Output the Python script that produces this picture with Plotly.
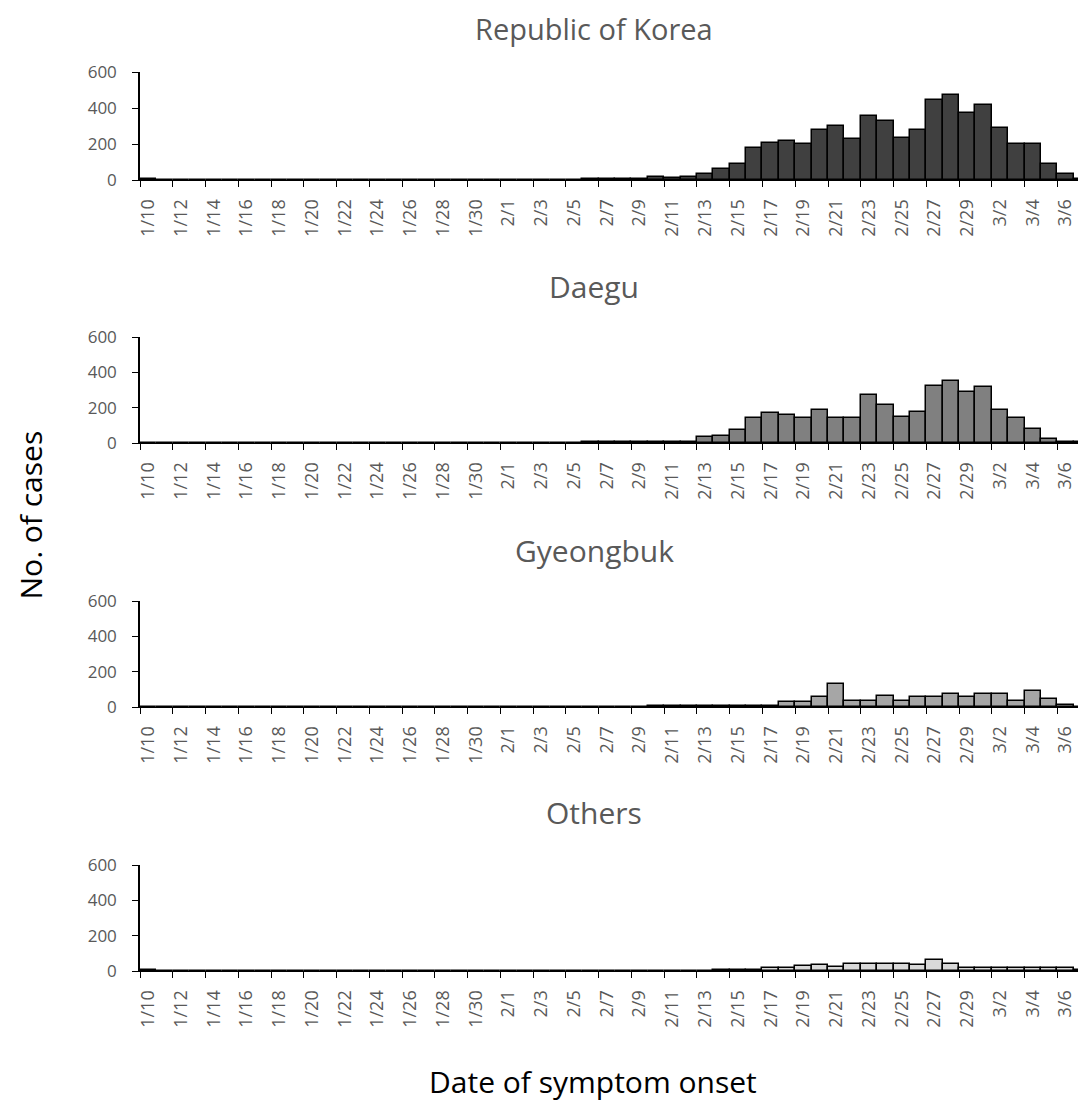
import plotly.graph_objects as go

dates = ([f"1/{d}" for d in range(10, 32)] +
         [f"2/{d}" for d in range(1, 30)] +
         [f"3/{d}" for d in range(1, 8)])

korea = [3, 0, 0, 0, 0, 0, 0, 0, 0, 2, 2, 2, 2, 0, 0, 2, 2, 0, 0, 2, 2, 2,
         2, 0, 0, 2, 2, 3, 3, 3, 5, 19, 9, 19, 33, 63, 89, 180, 208, 217, 199,
         280, 299, 227, 353, 327, 234, 280, 446, 475, 373,
         418, 290, 199, 199, 89, 33, 5]

daegu = [0] * 22 + [0, 0, 0, 0, 0, 3, 3, 3, 3, 3, 3, 3, 32, 41, 71, 141, 171,
         160, 141, 188, 141, 141, 271, 215, 150, 178, 325, 353, 288,
         316, 188, 141, 78, 24, 4, 4]

gyeongbuk = [0] * 22 + [0, 0, 0, 0, 0, 0, 0, 0, 0, 3, 3, 3, 3, 3, 3, 3, 3,
             28, 28, 56, 130, 35, 35, 65, 35, 56, 56, 74, 56,
             74, 74, 35, 93, 46, 9, 0]

others = [3, 0, 0, 0, 0, 0, 0, 0, 0, 2, 2, 2, 2, 0, 0, 2, 2, 0, 0, 2, 2, 2,
          2, 0, 0, 2, 2, 2, 2, 2, 2, 2, 2, 2, 0, 3, 3, 3, 15, 15, 26, 35, 22,
          41, 41, 41, 41, 32, 61, 41, 15,
          15, 15, 15, 15, 15, 15, 5]

titles = ["Republic of Korea", "Daegu", "Gyeongbuk", "Others"]
series = [korea, daegu, gyeongbuk, others]
colors = ["#404040", "#808080", "#a6a6a6", "#d9d9d9"]
yticks = [0, 200, 400, 600]

# page body has an 8px margin; lay out in screen pixels minus that offset
OFF = 8
W, H = 1086 - OFF, 1102 - OFF
FONT = "Open Sans"
TXT = "#595959"
tops = [72 - OFF, 337 - OFF, 601 - OFF, 865 - OFF]
heights = [108, 106, 106, 106]
title_y = [23 - OFF, 287 - OFF, 550 - OFF, 812 - OFF]
x0px = 140 - OFF

fig = go.Figure()
xidx = list(range(len(dates)))
tickpos = xidx[::2]
ticklab = dates[::2]

for i, (name, vals, col) in enumerate(zip(titles, series, colors)):
    n = "" if i == 0 else str(i + 1)
    fig.add_trace(go.Bar(
        x=xidx, y=vals, name=name, xaxis="x" + n, yaxis="y" + n,
        marker=dict(color=col, line=dict(color="#000000", width=1.5)),
        width=1.0, showlegend=False, hoverinfo="skip",
    ))
    top, h = tops[i], heights[i]
    fig.layout["xaxis" + n] = dict(
        domain=[x0px / W, 1.0], anchor="y" + n, automargin=False,
        range=[-0.5, 57.25], showline=True, linecolor="#000000", linewidth=1.2,
        tickmode="array", tickvals=tickpos, ticktext=ticklab, ticks="",
        tickangle=-90, tickfont=dict(family=FONT, size=18, color=TXT),
        ticklabelstandoff=11,
        minor=dict(tickmode="linear", tick0=-0.5, dtick=2, ticks="outside",
                   ticklen=6, tickwidth=1.3, tickcolor="#000000", showgrid=False),
        showgrid=False, zeroline=False, fixedrange=True,
    )
    fig.layout["yaxis" + n] = dict(
        domain=[1 - (top + h) / H, 1 - top / H], anchor="x" + n, automargin=False,
        range=[0, 600], tickmode="array", tickvals=yticks,
        ticks="outside", ticklen=6, tickwidth=1.3, tickcolor="#000000",
        showline=True, linecolor="#000000", linewidth=1.5,
        tickfont=dict(family=FONT, size=17, color=TXT),
        ticklabelstandoff=12,
        showgrid=False, zeroline=False, fixedrange=True,
    )
    if i == 0:
        fig.add_annotation(text=name, x=(594 - OFF) / W, y=1.0,
                           xref="paper", yref="paper", showarrow=False,
                           xanchor="center", yanchor="top", borderpad=0,
                           font=dict(family=FONT, size=29, color=TXT))
    else:
        fig.add_annotation(text=name, x=(594 - OFF) / W, y=1 - title_y[i] / H,
                           xref="paper", yref="paper", showarrow=False,
                           xanchor="center", yanchor="middle",
                           font=dict(family=FONT, size=30, color=TXT))

fig.add_annotation(text="No. of cases", x=0.0, y=1 - (515 - OFF) / H,
                   xref="paper", yref="paper", showarrow=False, textangle=-90,
                   xanchor="left", yanchor="middle", borderpad=0,
                   font=dict(family=FONT, size=30, color="#000000"))
fig.add_annotation(text="Date of symptom onset", x=(593 - OFF) / W,
                   y=1 - (1081 - OFF) / H,
                   xref="paper", yref="paper", showarrow=False,
                   xanchor="center", yanchor="middle",
                   font=dict(family=FONT, size=30, color="#000000"))

fig.update_layout(
    template="none",
    width=W, height=H, autosize=False,
    margin=dict(l=0, r=0, t=0, b=0, pad=0),
    paper_bgcolor="white", plot_bgcolor="white",
    bargap=0, font=dict(family=FONT, color=TXT),
)

fig.write_html("out.html", config={"displayModeBar": False})
